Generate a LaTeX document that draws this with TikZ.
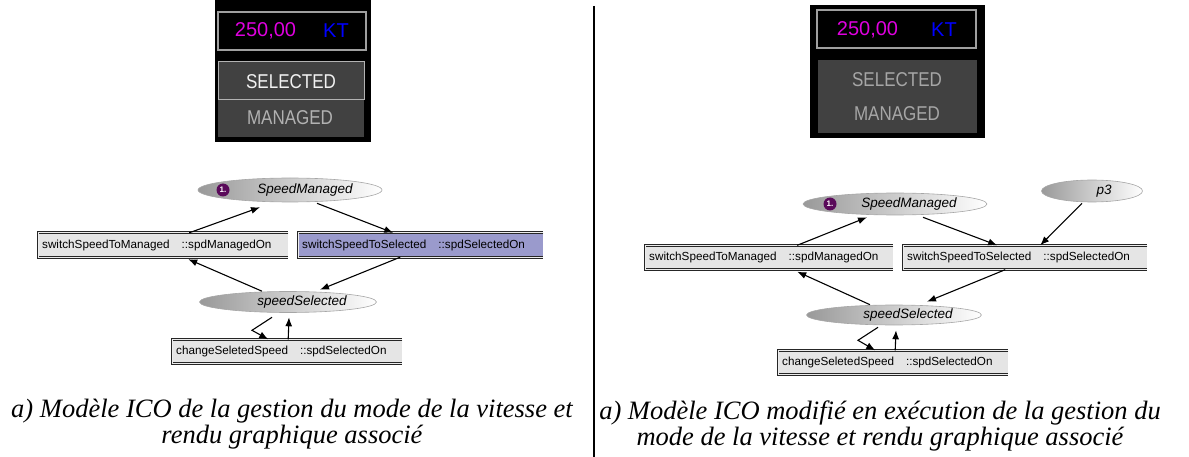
\documentclass[tikz,border=0pt]{standalone}
\usepackage{fontspec}
\setmainfont{Liberation Serif}
\newfontfamily\netfont{Liberation Sans}
\newfontfamily\lcdfont[FakeStretch=0.85]{Liberation Sans}
\usetikzlibrary{arrows.meta,shapes.geometric}
\definecolor{lcdpink}{HTML}{E000E0}
\definecolor{lcdblue}{HTML}{0000FF}
\definecolor{panelgray}{HTML}{414141}
\definecolor{tokenpurple}{HTML}{5A0A5A}
\definecolor{firedblue}{HTML}{9A9ACC}
\tikzset{
  place/.style={
    ellipse,
    draw=gray!70,
    line width=0.6pt,
    left color=gray!80,
    right color=white,
    inner sep=0pt,
    font=\netfont\fontsize{13.5}{15}\selectfont\itshape
  },
  token/.style={
    circle,
    fill=tokenpurple,
    text=white,
    inner sep=0pt,
    minimum size=13pt,
    font=\netfont\fontsize{8}{9}\selectfont\bfseries
  },
  trans/.style={
    anchor=west,
    fill=gray!20,
    minimum height=24pt,
    inner xsep=4pt,
    inner ysep=0pt,
    align=left,
    font=\netfont\fontsize{11.7}{13}\selectfont
  },
  tborder/.style={draw=black!85, double=gray!15, double distance=0.9pt, line width=0.9pt},
  lcdnum/.style={inner sep=0pt, font=\netfont\fontsize{20}{22}\selectfont},
  lcdtxt/.style={inner sep=0pt, font=\lcdfont\fontsize{20}{22}\selectfont},
  caption/.style={align=center, font=\fontsize{26.5}{25.5}\selectfont\itshape},
  every edge/.style={draw, -{Latex[length=9pt,width=7pt]}, line width=1.1pt}
}

\begin{document}
\begin{tikzpicture}[x=1pt,y=-1pt]
  \useasboundingbox (0,0) rectangle (1189,457);

  % left display
  \fill[black] (215,0) rectangle (371,142);
  \draw[gray!75, line width=1.2pt] (218,12) rectangle (366,50);
  \node[lcdnum, text=lcdpink] (spdL) at (265.5,31) {250,00};
  \node[lcdnum, text=lcdblue] (ktL) at (336,31) {KT};
  \fill[panelgray] (218,100) rectangle (364,137);
  \draw[fill=panelgray, draw=gray!60, line width=1pt] (218,62) rectangle (364,100);
  \node[lcdtxt, text=gray!10] (selL) at (291,82) {SELECTED};
  \node[lcdtxt, text=gray!60] (manL) at (290,118) {MANAGED};

  % right display
  \fill[black] (810,5) rectangle (985,138);
  \draw[gray!75, line width=1.2pt] (817,10) rectangle (976,48);
  \node[lcdnum, text=lcdpink] (spdR) at (867.5,30) {250,00};
  \node[lcdnum, text=lcdblue] (ktR) at (944,30) {KT};
  \fill[panelgray] (818,60) rectangle (977,133);
  \node[lcdtxt, text=gray!70] (selR) at (897,80) {SELECTED};
  \node[lcdtxt, text=gray!70] (manR) at (897,114) {MANAGED};

  % left net
  \node[place, minimum width=184pt, minimum height=24pt] (smL) at (290,190) {\hspace*{30pt}SpeedManaged};
  \node[token] (tokL) at (223,190) {1.};
  \node[trans, text width=242pt] (tstmL) at (38,245) {switchSpeedToManaged\hspace{12pt}::spdManagedOn};
  \node[trans, text width=237pt, fill=firedblue] (tstsL) at (298,245) {switchSpeedToSelected\hspace{12pt}::spdSelectedOn};
  \node[place, minimum width=177pt, minimum height=21pt] (ssL) at (288,302) {\hspace*{28pt}speedSelected};
  \node[trans, text width=222pt] (tcssL) at (172,351.5) {changeSeletedSpeed\hspace{12pt}::spdSelectedOn};

  % right net
  \node[place, minimum width=101pt, minimum height=22pt] (p3) at (1092,191) {\hspace*{24pt}p3};
  \node[place, minimum width=184pt, minimum height=22pt] (smR) at (895,204) {\hspace*{28pt}SpeedManaged};
  \node[token] (tokR) at (830,204) {1.};
  \node[trans, text width=240pt] (tstmR) at (645,257.5) {switchSpeedToManaged\hspace{12pt}::spdManagedOn};
  \node[trans, text width=236pt] (tstsR) at (903,257.5) {switchSpeedToSelected\hspace{12pt}::spdSelectedOn};
  \node[place, minimum width=175pt, minimum height=20pt] (ssR) at (894,315) {\hspace*{28pt}speedSelected};
  \node[trans, text width=222pt] (tcssR) at (778,362.5) {changeSeletedSpeed\hspace{12pt}::spdSelectedOn};

  \foreach \t in {tstmL,tstsL,tcssL,tstmR,tstsR,tcssR}
    \draw[tborder] (\t.north east) -- (\t.north west) -- (\t.south west) -- (\t.south east);

  \path ([xshift=26pt]tstmL.north) edge ([xshift=-30pt,yshift=-5pt]smL.south)
        ([xshift=27pt,yshift=-1pt]smL.south) edge ([xshift=-27.5pt]tstsL.north)
        ([xshift=-20.5pt]tstsL.south) edge ([xshift=32pt,yshift=1.5pt]ssL.north)
        ([xshift=-26pt]ssL.north) edge ([xshift=25pt,yshift=-2pt]tstmL.south)
        ([xshift=1pt]tcssL.north) edge ([xshift=1pt,yshift=-4.5pt]ssL.south);
  \draw[-{Latex[length=9pt,width=7pt]}, line width=1.1pt]
    ([xshift=-16pt,yshift=-4.5pt]ssL.south) -- ++(-20,13) -- ([xshift=-19pt]tcssL.north);

  \path ([xshift=28pt]tstmR.north) edge ([xshift=-28pt,yshift=-2pt]smR.south)
        ([xshift=28pt,yshift=-2pt]smR.south) edge ([xshift=-28pt]tstsR.north)
        ([xshift=-10pt,yshift=-1pt]p3.south) edge ([xshift=15pt]tstsR.north)
        ([xshift=-20pt]tstsR.south) edge ([xshift=33pt,yshift=3pt]ssR.north)
        ([xshift=-24pt]ssR.north) edge ([xshift=28pt,yshift=-2pt]tstmR.south)
        ([xshift=2pt]tcssR.north) edge ([xshift=2pt,yshift=-5pt]ssR.south);
  \draw[-{Latex[length=9pt,width=7pt]}, line width=1.1pt]
    ([xshift=-16pt,yshift=-2pt]ssR.south) -- ++(-20,13) -- ([xshift=-18pt]tcssR.north);

  % separator and captions
  \draw[line width=1.3pt] (594,6) -- (594,457);
  \node[caption] (capL) at (292,424) {a) Modèle ICO de la gestion du mode de la vitesse et\\rendu graphique associé};
  \node[caption] (capR) at (880,426) {a) Modèle ICO modifié en exécution de la gestion du\\mode de la vitesse et rendu graphique associé};
\end{tikzpicture}
\end{document}
